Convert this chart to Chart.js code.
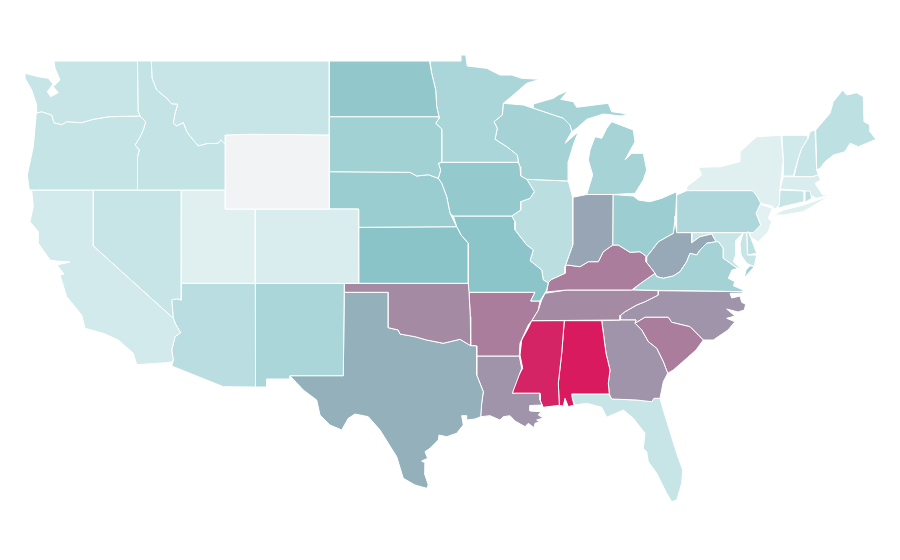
<!DOCTYPE html>
<html>
<head>
<meta charset="utf-8">
<title>US states</title>
<script src="https://cdn.jsdelivr.net/npm/chart.js@4"></script>
<style>
html, body { margin: 0; background: #fff; }
canvas { display: block; }
</style>
</head>
<body>
<canvas id="myChart" width="900" height="560"></canvas>
<script>
"use strict";
// state outlines, in map units
const WA = [[54,61],[137.5,61],[138,111],[140,116],[109,116.7],[93.3,119.3],[81.7,122.7],[66.7,121.7],[61.7,124.7],[54,122.7],[51.7,115],[41.7,111.7],[36,113.3],[36.7,105],[31.7,90],[25,78.3],[25,73.3],[38.3,76.7],[48.3,78.3],[53,84],[47.3,91.7],[50.7,96.7],[58.3,92.7],[53.3,86.7],[60,80],[55,68]];
const OR = [[36,113.3],[41.7,111.7],[51.7,115],[54,122.7],[61.7,124.7],[66.7,121.7],[81.7,122.7],[93.3,119.3],[109,116.7],[140,116],[145.7,121.7],[143.3,130],[139.3,138.3],[135,145],[139.3,150],[137.5,156.7],[137.5,190],[29.3,190],[27.3,175],[33.3,146.7],[36,116.7]];
const ID = [[137.5,61],[151.3,61],[152,78.3],[156.7,90],[166.7,98.3],[171.7,104],[177.7,104.3],[175,113.3],[173.3,123.3],[176.7,126],[183.3,122.7],[186.7,131.7],[191.7,138.3],[198.3,146],[206.7,143.7],[218.3,143.3],[220.7,140],[225.3,144.3],[225.3,190],[137.5,190],[137.5,156.7],[139.3,150],[135,145],[139.3,138.3],[143.3,130],[145.7,121.7],[140,116],[138,111]];
const MT = [[151.3,61],[329.3,61],[329.3,135],[285,134.5],[250,134.3],[225.3,135],[225.3,144.3],[220.7,140],[218.3,143.3],[206.7,143.7],[198.3,146],[191.7,138.3],[186.7,131.7],[183.3,122.7],[176.7,126],[173.3,123.3],[175,113.3],[177.7,104.3],[171.7,104],[166.7,98.3],[156.7,90],[152,78.3]];
const WY = [[225.3,135],[250,134.3],[285,134.5],[329.3,135],[329.3,209],[225.3,209]];
const CA = [[31.7,190],[93.3,190],[93.3,246],[173.3,318.3],[176,325],[180.7,332.7],[175,336.7],[171.7,350],[173.3,360],[171.7,362],[166.7,362.7],[136.7,364.7],[133.3,353.3],[118.3,340],[103.3,333.3],[85,328.3],[81.7,315],[66.7,296.7],[60,275],[64,274],[57,265],[70,262],[56,261],[50,260],[38.3,243.3],[38.3,231.7],[30,221.7],[33.3,206.7]];
const NV = [[93.3,190],[181.5,190],[181.5,283.3],[181,300],[176.7,298.7],[171.7,300],[173.3,318.3],[93.3,246]];
const UT = [[181.5,190],[225.3,190],[225.3,209],[255.3,209],[255.3,283.3],[181.5,283.3]];
const CO = [[255.3,209],[358.5,209],[358.7,283.3],[255.3,283.3]];
const AZ = [[181.5,283.3],[255.3,283.3],[255.5,387],[223.3,386.7],[171.7,366],[173.3,360],[171.7,350],[175,336.7],[180.7,332.7],[176,325],[173.3,318.3],[171.7,300],[176.7,298.7],[181,300]];
const NM = [[255.3,283.3],[344.3,283.3],[343.3,375.7],[290,375.7],[290,379],[266.7,379],[266.7,387],[255.5,387]];
const ND = [[329.3,61],[429.5,61],[431.7,73.3],[435.7,90],[436.7,106.7],[439,116.7],[329.3,116.7]];
const SD = [[329.3,116.7],[439,116.7],[439,118.3],[435.7,123.3],[441.7,129],[441.7,162.3],[438.3,163.3],[440.7,170],[438.3,178.3],[428.3,174.7],[416.7,176],[410,172.3],[329.3,171.7]];
const NE = [[329.3,171.7],[410,172.3],[416.7,176],[428.3,174.7],[438.3,178.3],[441.7,183.3],[446.7,196.7],[450,213.3],[456.7,226.7],[358.5,227.3],[358.5,209],[329.3,209]];
const KS = [[358.5,227.3],[456.7,226.7],[461,235],[468.3,243.3],[468.3,283.3],[358.7,283.3]];
const OK = [[344.3,283.3],[468.3,283.3],[469,292.3],[470.3,316.7],[470.7,345.7],[460,339.3],[443.3,343.3],[426.7,340],[415,336.7],[400,334],[398.3,330],[388.3,327.7],[388.3,292.3],[344.3,292.3]];
const TX = [[344.3,292.3],[388.3,292.3],[388.3,327.7],[398.3,330],[400,334],[415,336.7],[426.7,340],[443.3,343.3],[460,339.3],[470.7,345.7],[476.7,346],[476.7,375],[483.3,391.7],[481.7,403.3],[480.7,416.7],[475,419],[466.7,420],[466.7,415.7],[461.7,415.7],[463.3,425],[456.7,433.3],[446.7,436.7],[439,435],[438.3,440],[430,448.3],[425,451.7],[427.7,458.3],[421.7,461],[425.7,463.3],[425,475],[428.3,485],[426.7,488.3],[415,485],[403.3,478.3],[396.7,456.7],[380,430],[368.3,416.7],[355,414],[348.3,418.3],[341.7,430],[330,425],[320,415],[316.7,400],[303.3,390],[290,375.7],[343.3,375.7]];
const MN = [[430,61],[461,61],[461,55],[465.7,55],[467.3,66],[486.7,68.3],[500,75],[511.7,75],[521.7,78.3],[540,79.3],[526.7,83.3],[513.3,95],[503.3,103.3],[502.3,115],[494,121.7],[497.3,128.3],[495,139.3],[506.7,146.7],[517.3,155],[518.3,162.3],[441.7,162.3],[441.7,129],[435.7,123.3],[439,118.3],[439,116.7],[436.7,106.7],[435.7,90],[431.7,73.3]];
const IA = [[441.7,162.3],[518.3,162.3],[520,166.7],[520.7,176],[526.7,179.3],[534.3,191.7],[530,198.3],[520.7,201.7],[520.7,210],[511.7,216],[453.3,216],[450,213.3],[446.7,196.7],[441.7,183.3],[438.3,178.3],[440.7,170],[438.3,163.3]];
const MO = [[453.3,216],[511.7,216],[515,221.7],[515,230],[526.7,245],[533.3,250],[530,260.7],[541.7,270],[543.3,280],[548.3,282.7],[546.7,290],[540,301],[530.7,301],[535,292.3],[468.3,292.3],[468.3,243.3],[461,235],[456.7,226.7]];
const AR = [[469,292.3],[535,292.3],[530.7,301],[540,301],[538.3,310],[531.7,320.7],[528.3,325],[520,343.3],[519.3,356],[476.7,356],[476.7,346],[470.7,345.7],[470.3,316.7]];
const LA = [[476.7,356],[519.3,356],[521.7,368.3],[512.3,393.3],[540,393.3],[540,400],[542,405],[530,405.5],[530,411],[541,411.7],[538.3,415],[543.3,418],[536.7,420],[543.3,424.3],[548.3,428.3],[540,421.7],[535,423.3],[534,427.7],[528.3,423.3],[525,426.7],[515,421],[510,415.7],[503.3,416.7],[500,420],[490,415.7],[480.7,416.7],[481.7,403.3],[483.3,391.7],[476.7,375]];
const WI = [[503.3,103.3],[523.3,105],[533.3,108.3],[563.3,118.3],[570,125],[571.7,131.7],[565,143.3],[578.3,131.7],[573.3,145],[568.3,161.7],[568.3,181],[526.7,179.3],[520.7,176],[520,166.7],[518.3,162.3],[517.3,155],[506.7,146.7],[495,139.3],[497.3,128.3],[494,121.7],[502.3,115]];
const IL = [[526.7,179.3],[568.3,181],[572.7,197.3],[572.7,245],[565,266.7],[565,273.3],[551.7,279.3],[548.3,282.7],[543.3,280],[541.7,270],[530,260.7],[533.3,250],[526.7,245],[515,230],[515,221.7],[511.7,216],[520.7,210],[520.7,201.7],[530,198.3],[534.3,191.7]];
const MI_UP = [[533.3,108.3],[533.3,104],[553.3,98.3],[558.3,95],[568.3,90.7],[560.7,99.3],[573.3,101.7],[576.7,107.3],[608.3,103.3],[611.7,111.7],[628,114],[621,116],[603.3,114],[586.7,119.3],[576.7,128.3],[571.7,131.7],[570,125],[563.3,118.3]];
const MI_LP = [[611.7,121.7],[633.3,130],[635,141.7],[625,160],[631.7,153.3],[643.3,153.3],[646.7,170],[643.3,180],[635,193.3],[613.3,194.5],[586.7,194.5],[592.7,175],[588.3,160],[590,150],[595,136.7],[601.7,138.3],[606.7,128.3]];
const IN = [[572.7,197.3],[586.7,194.5],[613,194.5],[612.7,245],[603.3,251.7],[598.3,261.7],[588.3,261.7],[580,266.7],[567.3,265],[565,266.7],[572.7,245]];
const OH = [[613,194.5],[633.3,196],[638.3,200],[650,201.7],[661.7,198.3],[676.7,191.7],[675.7,216],[675,220],[673.3,233.3],[658.3,241.7],[653.3,248.3],[646.7,256.7],[640,251.7],[630,252.3],[618.3,245],[612.7,245]];
const KY = [[546.7,292],[548.3,282.7],[551.7,279.3],[565,273.3],[565,266.7],[567.3,265],[580,266.7],[588.3,261.7],[598.3,261.7],[603.3,251.7],[612.7,245],[618.3,245],[630,252.3],[640,251.7],[646.7,256.7],[646,261.7],[655,273.3],[645.3,280],[638.3,285],[631.7,290],[566.7,290]];
const TN = [[545,293.3],[566.7,290],[631.7,290],[658.3,290.7],[658.3,295],[645,301.7],[636.7,305],[625,311.7],[620.7,315],[620,320],[531.7,320.7],[538.3,310],[541.7,300]];
const MS = [[531.7,320.7],[564.3,320.7],[561.7,353.3],[558.3,383.3],[559.3,405.3],[543.3,407.3],[540,400],[540,393.3],[512.3,393.3],[515,381.7],[522.7,368.3],[520,355],[521.7,340],[528.3,328]];
const AL = [[564.3,320.7],[601.7,320.7],[606,353.3],[610,370],[608.3,383.3],[609.3,394],[571.7,394],[572.3,398.3],[574,405],[568.3,406.7],[565,398.3],[563.3,406],[559.3,405.3],[558.3,383.3],[561.7,353.3]];
const GA = [[601.7,320.7],[620,320],[636,320],[635,323.3],[641.7,330],[648.3,341.7],[656.7,348.3],[663.3,361.7],[667.7,373.3],[663.3,381.7],[660,398.3],[654,398.3],[651.7,401.7],[636.7,400],[611.7,399],[609.3,394],[608.3,383.3],[610,370],[606,353.3]];
const FL = [[571.7,394],[609.3,394],[611.7,399],[636.7,400],[651.7,401.7],[654,398.3],[660,398.3],[663.3,410],[670,431.7],[676.7,453.3],[682.7,470],[681.7,483.3],[676.7,500],[671.7,501.7],[666.7,493.3],[656.7,473.3],[648.3,461.7],[646.7,451.7],[643.3,448.3],[645,433.3],[633.3,418.3],[623.3,410],[606.7,417.3],[601.7,407.3],[586.7,403.3],[575,405],[572.3,398.3]];
const SC = [[635,323.3],[645,317.3],[668.3,317.3],[671.7,322.3],[690,326.7],[703.3,340],[696,350],[686.7,358.3],[673.3,370],[667.7,373.3],[663.3,361.7],[656.7,348.3],[648.3,341.7],[641.7,330]];
const NC = [[658.3,290.7],[743.3,291.7],[743,293],[730,293.3],[731.7,298],[740,296],[741.7,302.3],[745.7,304.3],[744.3,310],[738,312],[726.7,309],[735,316],[726.7,318.3],[735,321.7],[728,330],[713.3,340],[703.3,340],[690,326.7],[671.7,322.3],[668.3,317.3],[645,317.3],[635,323.3],[636,320],[620,320],[620.7,315],[625,311.7],[636.7,305],[645,301.7],[658.3,295]];
const VA = [[633.3,290],[638.3,285],[645.3,280],[655,273.3],[656.7,276.7],[663.3,278.3],[673.3,276],[680,271.7],[686.7,261.7],[690,253.3],[696.7,255],[700,250],[706.7,243.3],[716,241.7],[718.3,241.7],[723.3,248.3],[723.3,258.3],[735,266.7],[738.3,268.3],[732,270],[728.3,278.3],[735,281.7],[733.3,285.7],[743.3,290],[743.3,291.7]];
const VA_E = [[750,265.7],[754.3,266.7],[744.3,277.7],[746,270]];
const WV = [[675,220],[676.7,232.7],[691.7,232.7],[691.7,242.7],[700,236.7],[711.7,234],[716,241.7],[706.7,243.3],[700,250],[696.7,255],[690,253.3],[686.7,261.7],[680,271.7],[673.3,276],[663.3,278.3],[656.7,276.7],[655,273.3],[646,261.7],[646.7,256.7],[653.3,248.3],[658.3,241.7],[673.3,233.3]];
const MD_W = [[691.7,232.7],[743.3,232.7],[735.5,241],[735.7,255],[733.3,261.7],[740,268],[738.3,268.3],[735,266.7],[723.3,258.3],[723.3,248.3],[718.3,241.7],[716,241.7],[711.7,234],[700,236.7],[691.7,242.7]];
const MD_E = [[743.3,232.7],[746.7,232.7],[747.5,255],[756.7,255],[754.3,266.7],[746.7,263.3],[741,255],[740,243.3]];
const DE = [[746.7,232.7],[748.3,231.7],[751.7,240],[756.7,253.3],[747.5,255]];
const PA = [[676.7,195],[686.7,190.7],[752.7,190.7],[757.3,196.7],[760.7,203.3],[756,213.3],[760.7,225],[753.3,232.5],[676.7,232.5]];
const NJ = [[760,204],[772.3,208.3],[768.3,218.3],[771.7,221.7],[768.3,231.7],[758.3,242],[750,236.7],[750,231],[760.7,225],[756,213.3]];
const NY = [[686.7,190.7],[686.7,186.7],[701.7,175],[698.3,167.3],[720,166.7],[740,161.7],[740,151.7],[756.7,136.7],[781,135.3],[783.3,160],[780,188.3],[779.3,205],[775,209.3],[771.7,206],[760,203.3],[757.3,196.7],[752.7,190.7]];
const NY_LI = [[773.3,215],[783.3,210],[803.3,205],[830,195.7],[803.3,211.7],[783.3,215]];
const CT = [[780,190],[804,191],[804.3,201.7],[785,206],[778.3,208.3]];
const RI = [[805,191],[810,191],[811.7,198.3],[805,202.3]];
const MA = [[783.3,176.7],[812.7,176.7],[818.3,175],[820.7,180],[815,183.3],[822.7,195],[830,195],[816.7,198.3],[810,195],[804,190.7],[780,189]];
const VT = [[782,135.3],[808.3,135.3],[808,138.3],[801.7,148.3],[798.3,158.3],[793.3,176],[783.3,176],[783.3,160]];
const NH = [[810,131.7],[815,130],[816.7,170],[818.3,175],[812.7,176.7],[794,176.7],[798.3,158.3],[801.7,148.3],[808,138.3]];
const ME = [[815.7,130],[830,113.3],[833.3,101.7],[842.7,90],[846.7,95],[856.7,92.7],[863.3,96.7],[864,121.7],[870,125],[870,131.7],[876,139.3],[866.7,143.3],[858.3,146.7],[850,143.3],[845,151.7],[833.3,155],[825,161.7],[820,168.3],[816.7,170]];

const stateNames = ["WA","OR","ID","MT","WY","CA","NV","UT","CO","AZ","NM","ND","SD","NE","KS","OK","TX","MN","IA","MO","AR","LA","WI","IL","MI","IN","OH","KY","TN","MS","AL","GA","FL","SC","NC","VA","WV","MD","DE","PA","NJ","NY","CT","RI","MA","VT","NH","ME"];
const stateValues = [20,21,22,20,0,15,20,9,12,27,34,46,38,42,50,67,56,34,45,49,71,64,37,26,36,59,41,71,67,97,100,64,20,71,64,37,58,20,25,33,7,9,20,25,12,16,20,25];
const stateShapes = [[WA],[OR],[ID],[MT],[WY],[CA],[NV],[UT],[CO],[AZ],[NM],[ND],[SD],[NE],[KS],[OK],[TX],[MN],[IA],[MO],[AR],[LA],[WI],[IL],[MI_UP,MI_LP],[IN],[OH],[KY],[TN],[MS],[AL],[GA],[FL],[SC],[NC],[VA,VA_E],[WV],[MD_W,MD_E],[DE],[PA],[NJ],[NY,NY_LI],[CT],[RI],[MA],[VT],[NH],[ME]];

// pale grey -> teal -> pink
const rampValues = [0, 9, 20, 50, 100];
const rampColors = [[242,243,245],[224,240,241],[199,229,231],[138,196,200],[217,26,95]];

function valueColor(v) {
    let k = 0;
    while (k < rampValues.length - 2 && v > rampValues[k + 1]) k++;
    const t = (v - rampValues[k]) / (rampValues[k + 1] - rampValues[k]);
    const c = rampColors[k].map((n, i) => Math.round(n + (rampColors[k + 1][i] - n) * t));
    return `rgb(${c[0]},${c[1]},${c[2]})`;
}

const datasets = [];
stateNames.forEach((name, i) => {
    stateShapes[i].forEach(shape => {
        datasets.push({
            label: name,
            data: shape.concat([shape[0]]).map(p => ({ x: p[0], y: p[1] })),
            showLine: true,
            fill: 'shape',
            tension: 0,
            backgroundColor: valueColor(stateValues[i]),
            borderColor: '#ffffff',
            borderWidth: 1,
            pointRadius: 0,
            pointHoverRadius: 0
        });
    });
});

new Chart(document.getElementById('myChart'), {
    type: 'scatter',
    data: { datasets: datasets },
    options: {
        responsive: false,
        animation: false,
        layout: { padding: 0 },
        plugins: { legend: { display: false }, tooltip: { enabled: false } },
        scales: {
            x: { type: 'linear', display: false, min: 0, max: 900 },
            y: { type: 'linear', display: false, min: 0, max: 560, reverse: true }
        }
    }
});
</script>
</body>
</html>
